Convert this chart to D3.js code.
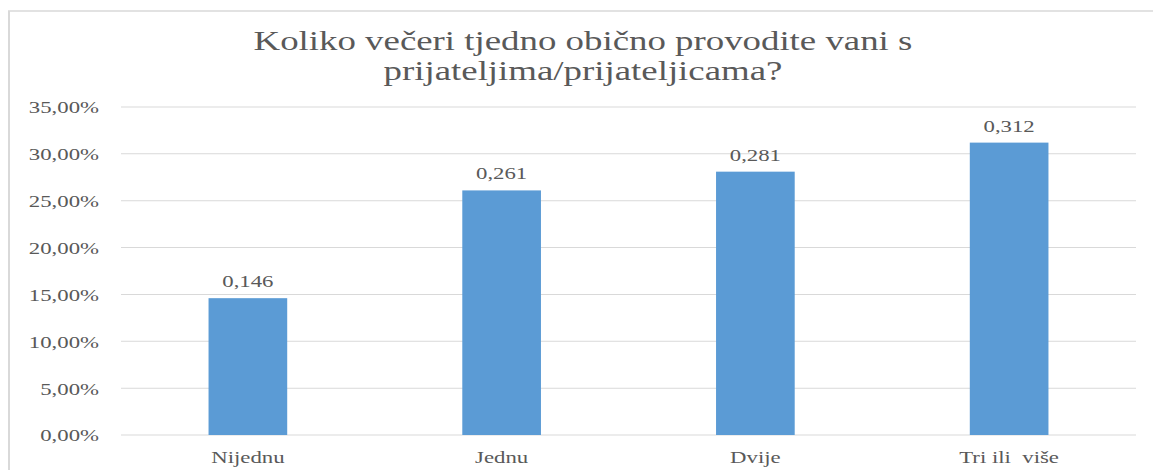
<!DOCTYPE html>
<html>
<head>
<meta charset="utf-8">
<script src="https://cdn.jsdelivr.net/npm/d3@7"></script>
<style>
  html, body { margin: 0; padding: 0; background: #fff; }
  #chart { width: 1153px; height: 470px; }
  text { font-family: "Liberation Serif", "Times New Roman", serif; fill: #595959; }
</style>
</head>
<body>
<div id="chart"></div>
<script>
// chart data
var categories = ["Nijednu", "Jednu", "Dvije", "Tri ili  više"];
var values = [0.146, 0.261, 0.281, 0.312];
var yTicks = [0, 0.05, 0.10, 0.15, 0.20, 0.25, 0.30, 0.35];
var titleLines = ["Koliko večeri tjedno obično provodite vani s", "prijateljima/prijateljicama?"];

// the original picture is stretched sideways, so draw in a narrower box and let it stretch
var stretch = 1.34;
var width = 1153 / stretch, height = 470;

var hr = d3.formatLocale({ decimal: ",", thousands: ".", grouping: [3], currency: ["", " kn"] });
var pct = hr.format(".2%");
var num = hr.format(".3f");

var svg = d3.select("#chart").append("svg")
    .attr("width", 1153)
    .attr("height", 470)
    .attr("viewBox", "0 0 " + width + " " + height)
    .attr("preserveAspectRatio", "none");

// chart area border (runs off the right and bottom edge)
svg.append("rect")
    .attr("x", 9 / stretch)
    .attr("y", 11)
    .attr("width", width)
    .attr("height", height)
    .attr("fill", "none")
    .attr("stroke", "#d9d9d9")
    .attr("stroke-width", 1.5);

var margin = { left: 121 / stretch, right: 1136 / stretch, top: 107, bottom: 435 };

var x = d3.scaleBand()
    .domain(categories)
    .range([margin.left, margin.right])
    .paddingInner(0.69)
    .paddingOuter(0.345);

var y = d3.scaleLinear()
    .domain([0, 0.35])
    .range([margin.bottom, margin.top]);

// gridlines
svg.append("g").selectAll("line")
    .data(yTicks)
    .enter().append("line")
    .attr("x1", margin.left)
    .attr("x2", margin.right)
    .attr("y1", function(d) { return y(d); })
    .attr("y2", function(d) { return y(d); })
    .attr("stroke", "#d9d9d9")
    .attr("stroke-width", 1);

// y axis labels
var yAxis = d3.axisLeft(y).tickValues(yTicks).tickFormat(pct).tickSize(0).tickPadding(0);
var gy = svg.append("g")
    .attr("transform", "translate(" + (99 / stretch) + ",0)")
    .call(yAxis);
gy.select(".domain").remove();
gy.selectAll("text")
    .attr("font-size", "17px")
    .attr("fill", "#595959")
    .attr("dy", "0.35em")
    .attr("font-family", "Liberation Serif, Times New Roman, serif");

// bars
svg.selectAll(".bar")
    .data(values)
    .enter().append("rect")
    .attr("class", "bar")
    .attr("x", function(d, i) { return x(categories[i]); })
    .attr("y", function(d) { return y(d); })
    .attr("width", x.bandwidth())
    .attr("height", function(d) { return y(0) - y(d); })
    .attr("fill", "#5b9bd5");

// bar value labels
svg.selectAll(".value")
    .data(values)
    .enter().append("text")
    .attr("class", "value")
    .attr("x", function(d, i) { return x(categories[i]) + x.bandwidth() / 2; })
    .attr("y", function(d) { return y(d) - 11; })
    .attr("text-anchor", "middle")
    .attr("font-size", "17px")
    .text(function(d) { return num(d); });

// x axis labels
var xAxis = d3.axisBottom(x).tickSize(0).tickPadding(0);
var gx = svg.append("g")
    .attr("transform", "translate(0," + (463) + ")")
    .call(xAxis);
gx.select(".domain").remove();
gx.selectAll("text")
    .attr("dy", 0)
    .attr("font-size", "17px")
    .attr("fill", "#595959")
    .attr("font-family", "Liberation Serif, Times New Roman, serif")
    .style("white-space", "pre");

// title
svg.selectAll(".title")
    .data(titleLines)
    .enter().append("text")
    .attr("class", "title")
    .attr("x", 583 / stretch)
    .attr("y", function(d, i) { return 50 + i * 30; })
    .attr("text-anchor", "middle")
    .attr("font-size", "27.5px")
    .text(function(d) { return d; });
</script>
</body>
</html>
